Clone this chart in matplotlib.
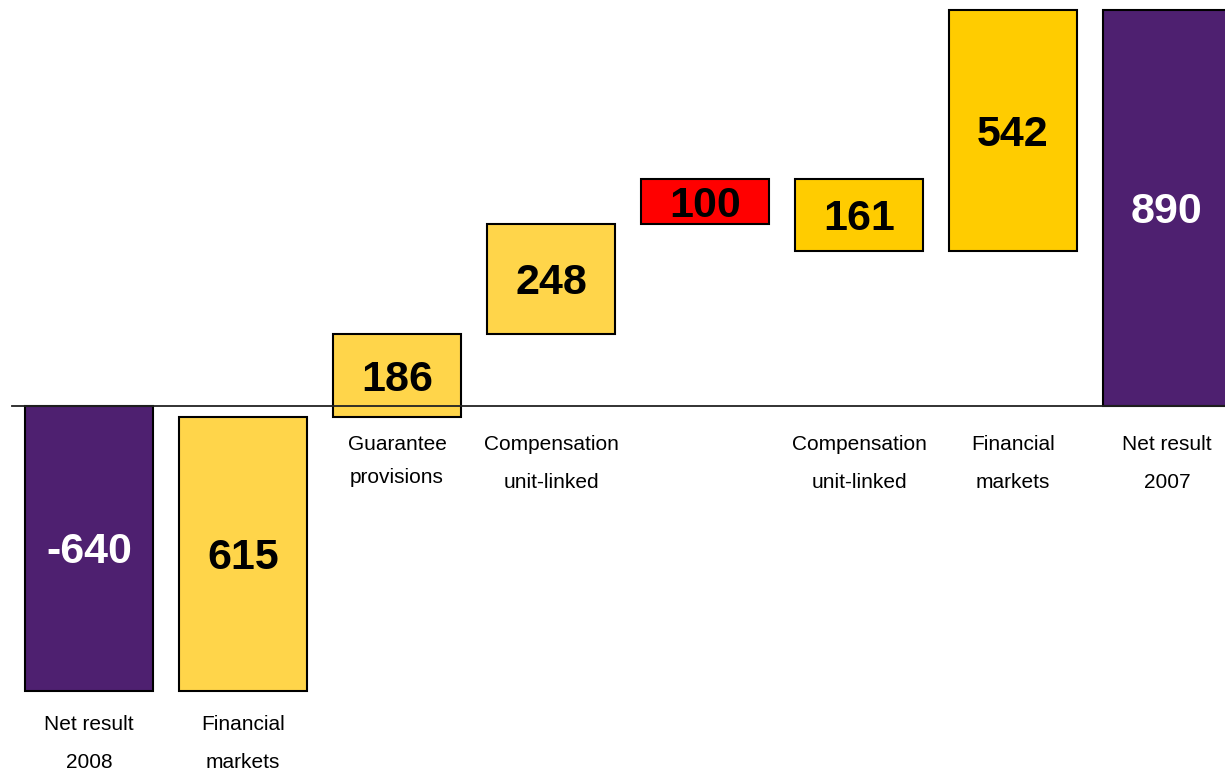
import matplotlib
matplotlib.use("Agg")
import matplotlib.pyplot as plt

# ---- data ----
start_value = -640
end_value = 890
steps = [615, 186, 248, 100, -161, 542]
value_labels = ["-640", "615", "186", "248", "100", "161", "542", "890"]
categories = ["Net result\n2008", "Financial\nmarkets", "Guarantee\nprovisions",
              "Compensation\nunit-linked", "", "Compensation\nunit-linked",
              "Financial\nmarkets", "Net result\n2007"]
bar_colors = ["#4E2070", "#FFD54A", "#FFD54A", "#FFD54A", "#FF0000",
              "#FFCC00", "#FFCC00", "#4E2070"]
text_colors = ["white", "black", "black", "black", "black", "black", "black", "white"]

# ---- compute waterfall geometry ----
bottoms, heights = [], []
bottoms.append(0); heights.append(start_value)
level = start_value
for s in steps:
    bottoms.append(level); heights.append(s)
    level += s
bottoms.append(0); heights.append(end_value)

fig = plt.figure(figsize=(12.25, 7.71), dpi=100)
ax = fig.add_axes([0, 0, 1, 1])
ax.set_axis_off()

px_per_unit = 0.445
x0_px, dx_px = 89, 154.0
ax.set_xlim(-x0_px / dx_px, (1225 - x0_px) / dx_px)
ax.set_ylim(-(771 - 406) / px_per_unit, 406 / px_per_unit)

xs = list(range(len(heights)))
ax.bar(xs, heights, bottom=bottoms, width=0.83, color=bar_colors,
       edgecolor="black", linewidth=1.5, zorder=2)

# baseline
ax.plot([(12 - x0_px) / dx_px, (1225 - x0_px) / dx_px], [0, 0],
        color="#222222", linewidth=1.3, zorder=3)

font = ["Liberation Sans", "DejaVu Sans"]
shift = 4 / px_per_unit
for x, b, h, lab, tc in zip(xs, bottoms, heights, value_labels, text_colors):
    ax.text(x, b + h / 2 - shift, lab, ha="center", va="center", fontsize=31,
            fontweight="bold", color=tc, family=font, zorder=4)

# category labels
for x, b, h, cat in zip(xs, bottoms, heights, categories):
    if not cat:
        continue
    lo = min(b, b + h)
    if lo < -100:
        y_px = 406 + (-lo) * px_per_unit + 34
    else:
        y_px = 445
    gap = 33 if cat.startswith("Guarantee") else 38
    for k, line in enumerate(cat.split("\n")):
        yv = (406 - (y_px + k * gap)) / px_per_unit
        ax.text(x, yv, line, ha="center", va="center", fontsize=15,
                color="black", family=font)

fig.savefig("out.png", dpi=100)
